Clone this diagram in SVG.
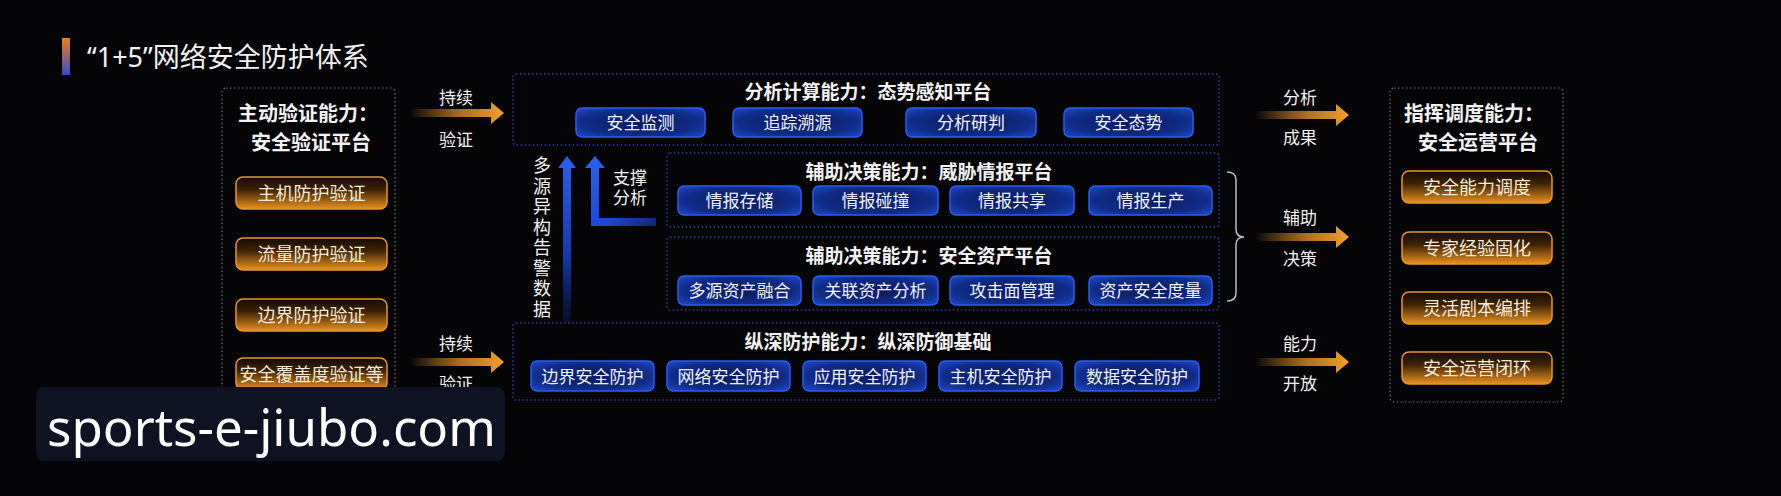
<svg xmlns="http://www.w3.org/2000/svg" width="1781" height="496" viewBox="0 0 1781 496">
<defs>
<linearGradient id="barG" x1="0" y1="0" x2="0" y2="1"><stop offset="0" stop-color="#e8801e"/><stop offset="1" stop-color="#3a48c8"/></linearGradient>
<radialGradient id="blueBtn" cx="0.5" cy="0.5" r="0.75"><stop offset="0" stop-color="#0a1a5a"/><stop offset="0.6" stop-color="#102c88"/><stop offset="1" stop-color="#2050d8"/></radialGradient>
<linearGradient id="orBtn" x1="0" y1="0" x2="0" y2="1"><stop offset="0" stop-color="#140b03"/><stop offset="0.4" stop-color="#3e2306"/><stop offset="1" stop-color="#ea921f"/></linearGradient>
<linearGradient id="orArrow" x1="0" y1="0" x2="1" y2="0"><stop offset="0" stop-color="#f0a030" stop-opacity="0"/><stop offset="0.55" stop-color="#d88a28" stop-opacity="0.8"/><stop offset="1" stop-color="#f2a12c"/></linearGradient>
<linearGradient id="upG" gradientUnits="userSpaceOnUse" x1="0" y1="156" x2="0" y2="325"><stop offset="0" stop-color="#2a60f0"/><stop offset="0.6" stop-color="#1438a8"/><stop offset="1" stop-color="#0a1a50" stop-opacity="0.4"/></linearGradient>
<linearGradient id="upG2" gradientUnits="userSpaceOnUse" x1="595" y1="156" x2="660" y2="226"><stop offset="0" stop-color="#2a60f0"/><stop offset="0.6" stop-color="#1a48d0"/><stop offset="1" stop-color="#1a40c0" stop-opacity="0.5"/></linearGradient>
</defs>
<style>
text{font-family:"Noto Sans","Noto Sans CJK SC",sans-serif;fill:#f2f2f2}
.ptitle{font-size:20px;font-weight:bold;text-anchor:middle}
.btitle{font-size:19px;font-weight:bold;text-anchor:middle}
.lbl{font-size:17px;text-anchor:middle}
.bt{font-size:17px;text-anchor:middle;fill:#eef2ff}
.ot{font-size:18px;text-anchor:middle;fill:#f6ead8}
.bb{fill:url(#blueBtn);stroke:#2d5cf0;stroke-width:1.5}
.ob{fill:url(#orBtn);stroke:#e8962a;stroke-width:1.5}
.side{fill:none;stroke:#707070;stroke-width:1.2;stroke-dasharray:1.5 2.5}
.mid{fill:none;stroke:#2c3ca8;stroke-width:1.5;stroke-dasharray:1.5 2.5}
.arr{fill:url(#orArrow)}
</style>
<rect width="1781" height="496" fill="#050507"/>

<g id="title">
<rect x="62" y="38" width="8" height="37" fill="url(#barG)"/>
<text x="87" y="67" style="font-size:27px">“1+5”网络安全防护体系</text>
</g>

<g id="verify-platform">
<rect class="side" x="222" y="88" width="173" height="314" rx="4"/>
<text class="ptitle" x="308" y="120.5">主动验证能力：</text>
<text class="ptitle" x="311" y="149.5">安全验证平台</text>
<rect class="ob" x="236" y="177" width="151" height="32" rx="7"/><text class="ot" x="311.5" y="199.8">主机防护验证</text>
<rect class="ob" x="236" y="238" width="151" height="32" rx="7"/><text class="ot" x="311.5" y="260.8">流量防护验证</text>
<rect class="ob" x="236" y="299" width="151" height="32" rx="7"/><text class="ot" x="311.5" y="321.8">边界防护验证</text>
<rect class="ob" x="236" y="358" width="151" height="32" rx="7"/><text class="ot" x="311.5" y="380.8">安全覆盖度验证等</text>
</g>

<g id="situation-platform">
<rect class="mid" x="513" y="74" width="706" height="71" rx="3"/>
<text class="btitle" x="868" y="99">分析计算能力：态势感知平台</text>
<rect class="bb" x="576" y="108" width="129" height="29" rx="6"/><text class="bt" x="640.5" y="129">安全监测</text>
<rect class="bb" x="733" y="108" width="129" height="29" rx="6"/><text class="bt" x="797.5" y="129">追踪溯源</text>
<rect class="bb" x="906" y="108" width="130" height="29" rx="6"/><text class="bt" x="971" y="129">分析研判</text>
<rect class="bb" x="1064" y="108" width="129" height="29" rx="6"/><text class="bt" x="1128.5" y="129">安全态势</text>
</g>

<g id="threat-intel-platform">
<rect class="mid" x="667" y="153" width="552" height="74" rx="3"/>
<text class="btitle" x="929" y="179">辅助决策能力：威胁情报平台</text>
<rect class="bb" x="678" y="186" width="123" height="29" rx="6"/><text class="bt" x="739.5" y="207">情报存储</text>
<rect class="bb" x="813" y="186" width="125" height="29" rx="6"/><text class="bt" x="875.5" y="207">情报碰撞</text>
<rect class="bb" x="950" y="186" width="124" height="29" rx="6"/><text class="bt" x="1012" y="207">情报共享</text>
<rect class="bb" x="1089" y="186" width="123" height="29" rx="6"/><text class="bt" x="1150.5" y="207">情报生产</text>
</g>

<g id="asset-platform">
<rect class="mid" x="667" y="237" width="552" height="73" rx="3"/>
<text class="btitle" x="929" y="263">辅助决策能力：安全资产平台</text>
<rect class="bb" x="678" y="276" width="123" height="29" rx="6"/><text class="bt" x="739.5" y="297">多源资产融合</text>
<rect class="bb" x="813" y="276" width="125" height="29" rx="6"/><text class="bt" x="875.5" y="297">关联资产分析</text>
<rect class="bb" x="950" y="276" width="124" height="29" rx="6"/><text class="bt" x="1012" y="297">攻击面管理</text>
<rect class="bb" x="1089" y="276" width="123" height="29" rx="6"/><text class="bt" x="1150.5" y="297">资产安全度量</text>
</g>

<g id="defense-base">
<rect class="mid" x="513" y="323" width="706" height="77" rx="3"/>
<text class="btitle" x="868" y="349">纵深防护能力：纵深防御基础</text>
<rect class="bb" x="531" y="361" width="123" height="30" rx="6"/><text class="bt" x="592.5" y="382.5">边界安全防护</text>
<rect class="bb" x="667" y="361" width="123" height="30" rx="6"/><text class="bt" x="728.5" y="382.5">网络安全防护</text>
<rect class="bb" x="803" y="361" width="123" height="30" rx="6"/><text class="bt" x="864.5" y="382.5">应用安全防护</text>
<rect class="bb" x="939" y="361" width="123" height="30" rx="6"/><text class="bt" x="1000.5" y="382.5">主机安全防护</text>
<rect class="bb" x="1075" y="361" width="124" height="30" rx="6"/><text class="bt" x="1137" y="382.5">数据安全防护</text>
</g>

<g id="ops-platform">
<rect class="side" x="1390" y="88" width="173" height="314" rx="4"/>
<text class="ptitle" x="1474" y="120.5">指挥调度能力：</text>
<text class="ptitle" x="1478" y="149.5">安全运营平台</text>
<rect class="ob" x="1402" y="171" width="150" height="32" rx="7"/><text class="ot" x="1477" y="193.8">安全能力调度</text>
<rect class="ob" x="1402" y="232" width="150" height="32" rx="7"/><text class="ot" x="1477" y="254.8">专家经验固化</text>
<rect class="ob" x="1402" y="292" width="150" height="32" rx="7"/><text class="ot" x="1477" y="314.8">灵活剧本编排</text>
<rect class="ob" x="1402" y="352" width="150" height="32" rx="7"/><text class="ot" x="1477" y="374.8">安全运营闭环</text>
</g>

<g id="connectors">
<path class="arr" d="M410,109 H491 V102 L504,113 L491,124 V117 H410 Z"/>
<text class="lbl" x="456" y="103.5">持续</text>
<text class="lbl" x="456" y="145.5">验证</text>
<path class="arr" d="M410,358 H491 V351 L504,362 L491,373 V366 H410 Z"/>
<text class="lbl" x="456" y="349.5">持续</text>
<text class="lbl" x="456" y="390">验证</text>

<path class="arr" d="M1255,111 H1336 V104 L1349,115 L1336,126 V119 H1255 Z"/>
<text class="lbl" x="1300" y="103.5">分析</text>
<text class="lbl" x="1300" y="143.5">成果</text>
<path class="arr" d="M1255,233 H1336 V226 L1349,237 L1336,248 V241 H1255 Z"/>
<text class="lbl" x="1300" y="223.5">辅助</text>
<text class="lbl" x="1300" y="264.5">决策</text>
<path class="arr" d="M1255,358 H1336 V351 L1349,362 L1336,373 V366 H1255 Z"/>
<text class="lbl" x="1300" y="349.5">能力</text>
<text class="lbl" x="1300" y="389.5">开放</text>

<path d="M1227,172 Q1236,172 1236,180 V229 Q1236,237 1244,237 Q1236,237 1236,245 V293 Q1236,301 1227,301" fill="none" stroke="#bdbdbd" stroke-width="1.5"/>

<path d="M567,156 L576,168 H571 V322 H563 V168 H558 Z" fill="url(#upG)"/>
<path d="M595,156 L605,168 H599 V218 H656 V226 H591 V168 H585 Z" fill="url(#upG2)"/>
<text style="font-size:18px;text-anchor:middle" x="542"><tspan x="542" y="172">多</tspan><tspan x="542" y="192.5">源</tspan><tspan x="542" y="213">异</tspan><tspan x="542" y="233.5">构</tspan><tspan x="542" y="254">告</tspan><tspan x="542" y="274.5">警</tspan><tspan x="542" y="295">数</tspan><tspan x="542" y="315.5">据</tspan></text>
<text class="lbl" x="630" y="183.5">支撑</text>
<text class="lbl" x="630" y="203.5">分析</text>
</g>

<g id="watermark">
<rect x="36" y="387" width="469" height="74" rx="8" fill="#0e1222"/>
<text x="47" y="446" style="font-size:51px;fill:#ffffff">sports-e-jiubo.com</text>
</g>
</svg>
